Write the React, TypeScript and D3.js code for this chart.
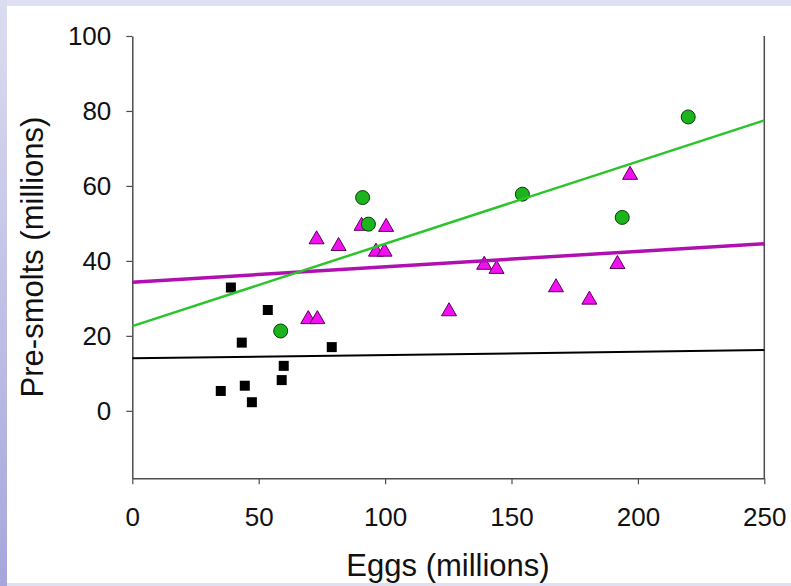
import { useEffect, useRef } from 'react';
import * as d3 from 'd3';

// x = eggs (millions), y = pre-smolts (millions)
const squaresX = [39.0, 53.6, 43.3, 78.9, 59.9, 59.1, 35.0, 44.5, 47.3];
const squaresY = [32.9, 26.9, 18.2, 17.0, 12.0, 8.2, 5.3, 6.7, 2.3];

const trianglesX = [72.9, 81.6, 90.7, 100.4, 96.4, 99.8, 69.6, 73.2, 125.3, 139.2, 144.1, 167.6, 180.8, 191.9, 196.9];
const trianglesY = [46.3, 44.5, 49.9, 49.6, 43.0, 43.0, 25.0, 25.0, 27.1, 39.5, 38.4, 33.5, 30.2, 39.7, 63.5];

const circlesX = [91.1, 93.4, 58.7, 154.3, 193.8, 219.9];
const circlesY = [56.9, 49.8, 21.3, 57.8, 51.6, 78.4];

// fitted lines: value at eggs = 0 and eggs = 250
const trendNames = ['squares', 'triangles', 'circles'];
const trendStart = [14.0, 34.3, 22.6];
const trendEnd = [16.2, 44.6, 77.5];

const xTicks = [0, 50, 100, 150, 200, 250];
const yTicks = [0, 20, 40, 60, 80, 100];

export default function App() {
  const svgRef = useRef<SVGSVGElement>(null);

  useEffect(() => {
    if (!svgRef.current) return;
    const width = 791;
    const height = 586;

    d3.select(svgRef.current).selectAll('*').remove();
    const svg = d3.select(svgRef.current).attr('width', width).attr('height', height);

    // slide-like frame
    const defs = svg.append('defs');
    const grad = defs.append('linearGradient').attr('id', 'side').attr('x1', 0).attr('y1', 0).attr('x2', 0).attr('y2', 1);
    grad.append('stop').attr('offset', '0%').attr('stop-color', '#dcdcf0');
    grad.append('stop').attr('offset', '100%').attr('stop-color', '#a6a6dc');
    svg.append('rect').attr('width', width).attr('height', height).attr('fill', '#dfe0f1');
    svg.append('rect').attr('x', 0).attr('y', 0).attr('width', 7).attr('height', height).attr('fill', 'url(#side)');
    svg.append('rect').attr('x', 7).attr('y', 6).attr('width', width - 7).attr('height', 577).attr('fill', '#ffffff');

    const x = d3.scaleLinear().domain([0, 250]).range([132.3, 764.3]);
    const y = d3.scaleLinear().domain([-18, 100]).range([478.3, 36]);

    const axisColor = '#4d4d4d';
    const font = 'Liberation Sans, Arial, sans-serif';

    // right border
    svg.append('line')
      .attr('x1', x(250)).attr('x2', x(250))
      .attr('y1', y(100)).attr('y2', y(-18))
      .attr('stroke', axisColor).attr('stroke-width', 1.5);

    const xAxis = svg.append('g')
      .attr('transform', `translate(0, ${y(-18)})`)
      .call(d3.axisBottom(x).tickValues(xTicks).tickSize(6).tickSizeOuter(0).tickPadding(23));
    const yAxis = svg.append('g')
      .attr('transform', `translate(${x(0)}, 0)`)
      .call(d3.axisLeft(y).tickValues(yTicks).tickSize(6).tickSizeOuter(0).tickPadding(15));

    [xAxis, yAxis].forEach((g) => {
      g.select('.domain').attr('stroke', axisColor).attr('stroke-width', 1.5);
      g.selectAll('.tick line').attr('stroke', axisColor).attr('stroke-width', 1.2);
      g.selectAll('.tick text').attr('fill', '#111').attr('font-size', 26).attr('font-family', font);
    });

    // markers
    svg.append('g')
      .selectAll('rect')
      .data(squaresX.map((v, i) => [v, squaresY[i]]))
      .enter()
      .append('rect')
      .attr('x', (d) => x(d[0]) - 5)
      .attr('y', (d) => y(d[1]) - 5)
      .attr('width', 10)
      .attr('height', 10)
      .attr('fill', '#000');

    const tri = 'M0,-6.5L7.5,6.5L-7.5,6.5Z';
    svg.append('g')
      .selectAll('path')
      .data(trianglesX.map((v, i) => [v, trianglesY[i]]))
      .enter()
      .append('path')
      .attr('d', tri)
      .attr('transform', (d) => `translate(${x(d[0])}, ${y(d[1])})`)
      .attr('fill', '#f010f0')
      .attr('stroke', '#5a005a')
      .attr('stroke-width', 1);

    svg.append('g')
      .selectAll('circle')
      .data(circlesX.map((v, i) => [v, circlesY[i]]))
      .enter()
      .append('circle')
      .attr('cx', (d) => x(d[0]))
      .attr('cy', (d) => y(d[1]))
      .attr('r', 7)
      .attr('fill', '#1cb41c')
      .attr('stroke', '#0a3a0a')
      .attr('stroke-width', 1);

    // trend lines
    const lineColors: Record<string, string> = { squares: '#000000', triangles: '#b010b0', circles: '#2cc42c' };
    const lineWidths: Record<string, number> = { squares: 2, triangles: 3.5, circles: 2.5 };
    const line = d3.line<[number, number]>().x((d) => x(d[0])).y((d) => y(d[1]));
    trendNames.forEach((name, i) => {
      svg.append('path')
        .attr('d', line([[0, trendStart[i]], [250, trendEnd[i]]]))
        .attr('fill', 'none')
        .attr('stroke', lineColors[name])
        .attr('stroke-width', lineWidths[name]);
    });

    // titles
    svg.append('text')
      .attr('x', 448)
      .attr('y', 576)
      .attr('text-anchor', 'middle')
      .attr('font-size', 31)
      .attr('font-family', font)
      .attr('fill', '#111')
      .text('Eggs (millions)');

    svg.append('text')
      .attr('transform', 'translate(43, 257) rotate(-90)')
      .attr('text-anchor', 'middle')
      .attr('font-size', 31)
      .attr('font-family', font)
      .attr('fill', '#111')
      .text('Pre-smolts (millions)');
  }, []);

  return <svg ref={svgRef} style={{ position: 'fixed', left: 0, top: 0, display: 'block' }} />;
}
